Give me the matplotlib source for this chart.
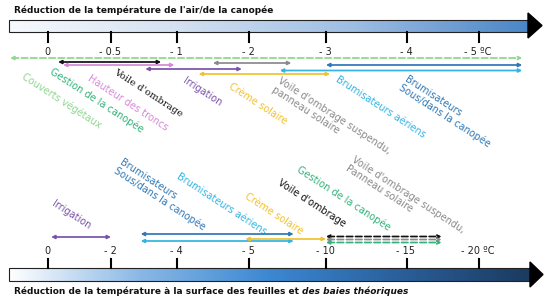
import numpy as np
import matplotlib.pyplot as plt
from matplotlib.colors import LinearSegmentedColormap
from matplotlib.patches import Polygon, Rectangle

# scale labels (same tick slots, different values)
top_ticks = [0, -0.5, -1, -2, -3, -4, -5]
top_tick_lbl = ['0', '- 0.5', '- 1', '- 2', '- 3', '- 4', '- 5 ºC']
bot_ticks = [0, -2, -4, -5, -10, -15, -20]
bot_tick_lbl = ['0', '- 2', '- 4', '- 5', '- 10', '- 15', '- 20 ºC']

# air/canopy reduction ranges (ºC)
top_names = ['Couverts végétaux', 'Voile d\'ombrage', 'Hauteur des troncs', 'Irrigation',
             'Voile d\'ombrage suspendu', 'Crème solaire', 'Brumisateurs sous', 'Brumisateurs aériens']
top_lo = [0.3, -0.08, -0.12, -0.76, -1.5, -1.3, -3.0, -2.4]
top_hi = [-5.6, -0.88, -0.98, -1.9, -2.55, -3.05, -5.6, -5.6]

# leaf / berry surface reduction ranges (ºC)
bot_names = ['Irrigation', 'Brumisateurs sous', 'Brumisateurs aériens', 'Crème solaire',
             'Voile d\'ombrage', 'Voile d\'ombrage suspendu', 'Gestion de la canopée']
bot_lo = [-0.1, -2.9, -2.9, -4.95, -10, -10, -10]
bot_hi = [-2.0, -7.9, -7.9, -10, -17.4, -17.4, -17.4]

tick_x = [48, 111, 177, 249, 326, 407, 479]

C = {
    'lgreen': '#8fd68f', 'green': '#33b27a', 'pink': '#d58ad6', 'black': '#111111',
    'purple': '#7a52aa', 'yellow': '#f2c12e', 'grey': '#8a8a8a', 'cyan': '#33b4e2',
    'blue': '#2f78b6',
}


def to_x(v, ticks):
    # piecewise linear between tick slots, extrapolated at both ends
    t = np.array(ticks, float)
    p = np.array(tick_x, float)
    if v > t[0]:
        return p[0] + (v - t[0]) * (p[1] - p[0]) / (t[1] - t[0])
    if v < t[-1]:
        return p[-1] + (v - t[-1]) * (p[-1] - p[-2]) / (t[-1] - t[-2])
    return np.interp(-v, -t, p)


fig = plt.figure(figsize=(5.5, 3.02), dpi=100)
ax = fig.add_axes([0, 0, 1, 1])
ax.set_xlim(0, 550)
ax.set_ylim(302, 0)
ax.axis('off')


def scale_bar(y0, y1, cmap, ytip0, ytip1, xtip0, xtip):
    grad = np.linspace(0, 1, 256).reshape(1, -1)
    ax.imshow(grad, cmap=cmap, extent=(9, xtip0 + 1, y1, y0), aspect='auto', zorder=1)
    ax.add_patch(Rectangle((9, y0), xtip0 + 1 - 9, y1 - y0, fill=False, ec='#222222', lw=0.8, zorder=2))
    ax.add_patch(Polygon([(xtip0, ytip0), (xtip, (ytip0 + ytip1) / 2), (xtip0, ytip1)],
                         closed=True, fc='black', ec='black', zorder=3))


top_cmap = LinearSegmentedColormap.from_list('t', ['#f7fafd', '#d2e0f1', '#9dbde3', '#4a86c7'])
bot_cmap = LinearSegmentedColormap.from_list('b', ['#ffffff', '#8ab8e6', '#3b88d2', '#2a5f9a', '#1b3a5e'])
scale_bar(20, 32, top_cmap, 13, 38, 528, 542)
scale_bar(268, 281, bot_cmap, 262, 287, 530, 543)

for x, lb in zip(tick_x, top_tick_lbl):
    ax.plot([x, x], [32, 42], color='black', lw=1.5, zorder=2)
    ax.text(x - 1, 52, lb, ha='center', va='center', fontsize=7, color='#222222')
for x, lb in zip(tick_x, bot_tick_lbl):
    ax.plot([x, x], [259, 268], color='black', lw=1.5, zorder=2)
    ax.text(x - 1, 251, lb, ha='center', va='center', fontsize=7, color='#222222')

ax.text(14, 10, 'Réduction de la température de l\'air/de la canopée',
        fontsize=6.5, fontweight='bold', va='center', ha='left', color='#111111')
t1 = ax.text(14, 291, 'Réduction de la température à la surface des feuilles et ',
             fontsize=6.5, fontweight='bold', va='center', ha='left', color='#111111')
fig.canvas.draw()
bb = t1.get_window_extent().transformed(ax.transData.inverted())
ax.text(bb.x1, 291, 'des baies théoriques', fontsize=6.5, fontweight='bold',
        style='italic', va='center', ha='left', color='#111111')


def arrow(x0, x1, y, color, ls='-', lw=1.25):
    ax.annotate('', xy=(x1, y), xytext=(x0, y),
                arrowprops=dict(arrowstyle='<|-|>' if ls == '-' else '<->', color=color, lw=lw,
                                linestyle=ls, mutation_scale=5, shrinkA=0, shrinkB=0), zorder=4)


top_style = [('lgreen', 58, '--'), ('black', 62, '-'), ('pink', 65, '-'), ('purple', 69, '-'),
             ('grey', 63, '-'), ('yellow', 74, '-'), ('blue', 65, '-'), ('cyan', 70.5, '-')]
for lo, hi, (c, y, ls) in zip(top_lo, top_hi, top_style):
    arrow(to_x(lo, top_ticks), to_x(hi, top_ticks), y, C[c], ls)

bot_style = [('purple', 237, '-'), ('blue', 234, '-'), ('cyan', 241, '-'), ('yellow', 239, '-'),
             ('black', 236.5, '--'), ('grey', 239.5, '--'), ('green', 242.5, '--')]
for lo, hi, (c, y, ls) in zip(bot_lo, bot_hi, bot_style):
    arrow(to_x(lo, bot_ticks), to_x(hi, bot_ticks), y, C[c], ls)

rot = -33
top_labels = [
    (26, 71, 'Couverts végétaux', 'lgreen', 'sans-serif'),
    (54, 66, 'Gestion de la canopée', 'green', 'sans-serif'),
    (91, 73, 'Hauteur des troncs', 'pink', 'sans-serif'),
    (117, 67, 'Voile d\'ombrage', 'black', 'serif'),
    (186, 76, 'Irrigation', 'purple', 'sans-serif'),
    (232, 81, 'Crème solaire', 'yellow', 'sans-serif'),
    (281, 76, 'Voile d\'ombrage suspendu,\npanneau solaire', 'grey', 'sans-serif'),
    (339, 74, 'Brumisateurs aériens', 'cyan', 'sans-serif'),
    (408, 74, 'Brumisateurs\nSous/dans la canopée', 'blue', 'sans-serif'),
]
bot_labels = [
    (55, 199, 'Irrigation', 'purple'),
    (123, 157, 'Brumisateurs\nSous/dans la canopée', 'blue'),
    (180, 171, 'Brumisateurs aériens', 'cyan'),
    (248, 191, 'Crème solaire', 'yellow'),
    (281, 178, 'Voile d\'ombrage', 'black'),
    (301, 164, 'Gestion de la canopée', 'green'),
    (355, 155, 'Voile d\'ombrage suspendu,\nPanneau solaire', 'grey'),
]
for x, y, s, c, fam in top_labels:
    ax.text(x, y, s, rotation=rot, rotation_mode='anchor', ha='left', va='top',
            fontsize=7, color=C[c], family=fam, linespacing=1.0)
for x, y, s, c in bot_labels:
    ax.text(x, y, s, rotation=rot, rotation_mode='anchor', ha='left', va='top',
            fontsize=7, color=C[c], linespacing=1.0)

fig.savefig('out.png', dpi=100)
